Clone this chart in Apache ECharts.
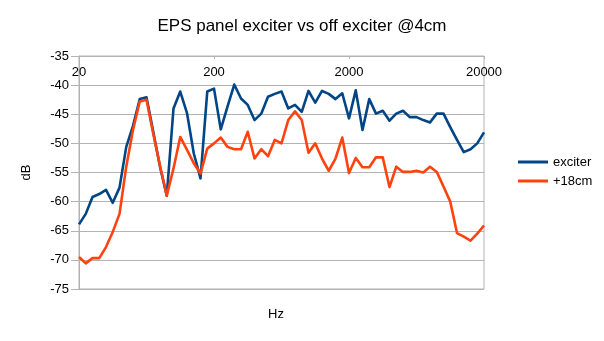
<!DOCTYPE html>
<html>
<head>
<meta charset="utf-8">
<script src="https://cdn.jsdelivr.net/npm/echarts@6/dist/echarts.min.js"></script>
<style>html,body{margin:0;padding:0;background:#fff}#c{width:604px;height:341px}</style>
</head>
<body>
<div id="c"></div>
<script>
var freqs = ["20","22.4","25.1","28.2","31.6","35.5","39.8","44.7","50.1","56.2",
  "63.1","70.8","79.4","89.1","100","112","126","141","158","178",
  "200","224","251","282","316","355","398","447","501","562",
  "631","708","794","891","1000","1122","1259","1413","1585","1778",
  "2000","2239","2512","2818","3162","3548","3981","4467","5012","5623",
  "6310","7079","7943","8913","10000","11220","12589","14125","15849","17783","20000"];

var exciter = [-63.9,-62.1,-59.2,-58.7,-58.0,-60.2,-57.6,-50.6,-47.0,-42.4,
  -42.1,-48.0,-54.0,-59.0,-44.0,-41.1,-44.8,-51.7,-56.0,-41.1,
  -40.6,-47.6,-43.7,-39.9,-42.3,-43.4,-46.0,-44.9,-42.0,-41.5,
  -41.1,-44.0,-43.4,-44.6,-41.0,-43.0,-41.0,-41.5,-42.4,-41.4,
  -45.7,-40.9,-47.7,-42.4,-44.9,-44.4,-46.1,-44.9,-44.4,-45.5,
  -45.5,-46.0,-46.4,-44.9,-44.9,-47.2,-49.4,-51.5,-51.0,-50.0,-48.1];

var off18 = [-69.5,-70.6,-69.7,-69.7,-67.8,-65.2,-62.1,-54.0,-47.7,-42.8,
  -42.5,-48.4,-53.8,-59.0,-54.3,-48.9,-51.1,-53.4,-55.2,-50.9,
  -50.0,-49.0,-50.6,-51.0,-51.0,-48.0,-52.6,-51.0,-52.2,-49.4,
  -50.0,-46.0,-44.5,-46.0,-51.6,-50.0,-52.6,-54.7,-52.6,-49.0,
  -55.1,-52.5,-54.1,-54.1,-52.4,-52.4,-57.5,-54.0,-54.9,-54.9,
  -54.7,-55.0,-54.0,-54.9,-57.4,-60.0,-65.4,-66.0,-66.7,-65.5,-64.1];

var yTicks = {min: -75, max: -35, step: 5};
var seriesNames = ["exciter", "+18cm"];

var FONT = "'Liberation Sans', Arial, sans-serif";
var GRID = "#b3b3b3";
var chart = echarts.init(document.getElementById('c'), null, {renderer: 'canvas'});
function labelIdx(i) { return i % 20 === 0; }
chart.setOption({
  animation: false,
  backgroundColor: '#fff',
  textStyle: {fontFamily: FONT},
  title: [
    {text: 'EPS panel exciter vs off exciter @4cm', left: 302, textAlign: 'center', top: 18, padding: 0,
     textStyle: {fontSize: 17, fontWeight: 'normal', color: '#000', fontFamily: FONT}},
    {text: 'Hz', left: 276, textAlign: 'center', top: 308, padding: 0,
     textStyle: {fontSize: 13, fontWeight: 'normal', color: '#000', fontFamily: FONT}}
  ],
  legend: {
    orient: 'vertical', left: 513, top: 150,
    icon: 'rect', itemWidth: 30, itemHeight: 3, itemGap: 5,
    textStyle: {fontSize: 13, color: '#000', lineHeight: 14, fontFamily: FONT},
    data: seriesNames
  },
  grid: {left: 79, right: 120, top: 56, bottom: 52, show: true, borderColor: GRID, borderWidth: 1},
  xAxis: {
    type: 'category', data: freqs, boundaryGap: false, position: 'top',
    axisLine: {show: true, lineStyle: {color: GRID, width: 1}},
    axisTick: {show: true, inside: true, length: 3, interval: labelIdx, lineStyle: {color: GRID}},
    axisLabel: {inside: true, margin: 10, interval: labelIdx, color: '#000', fontSize: 13, fontFamily: FONT},
    splitLine: {show: false}
  },
  yAxis: {
    type: 'value', min: yTicks.min, max: yTicks.max, interval: yTicks.step,
    name: 'dB', nameLocation: 'middle', nameGap: 46, nameRotate: 90,
    nameTextStyle: {fontSize: 13, color: '#000', fontFamily: FONT},
    axisLine: {show: true, lineStyle: {color: GRID, width: 1}},
    axisTick: {show: true, length: 8, lineStyle: {color: GRID}},
    axisLabel: {margin: 10, color: '#000', fontSize: 13, fontFamily: FONT},
    splitLine: {show: true, lineStyle: {color: GRID, width: 1}}
  },
  series: [
    {name: seriesNames[0], type: 'line', data: exciter, symbol: 'none', color: '#004586',
     lineStyle: {width: 2.6, color: '#004586', join: 'round'}},
    {name: seriesNames[1], type: 'line', data: off18, symbol: 'none', color: '#ff420e',
     lineStyle: {width: 2.6, color: '#ff420e', join: 'round'}}
  ]
});
</script>
</body>
</html>
